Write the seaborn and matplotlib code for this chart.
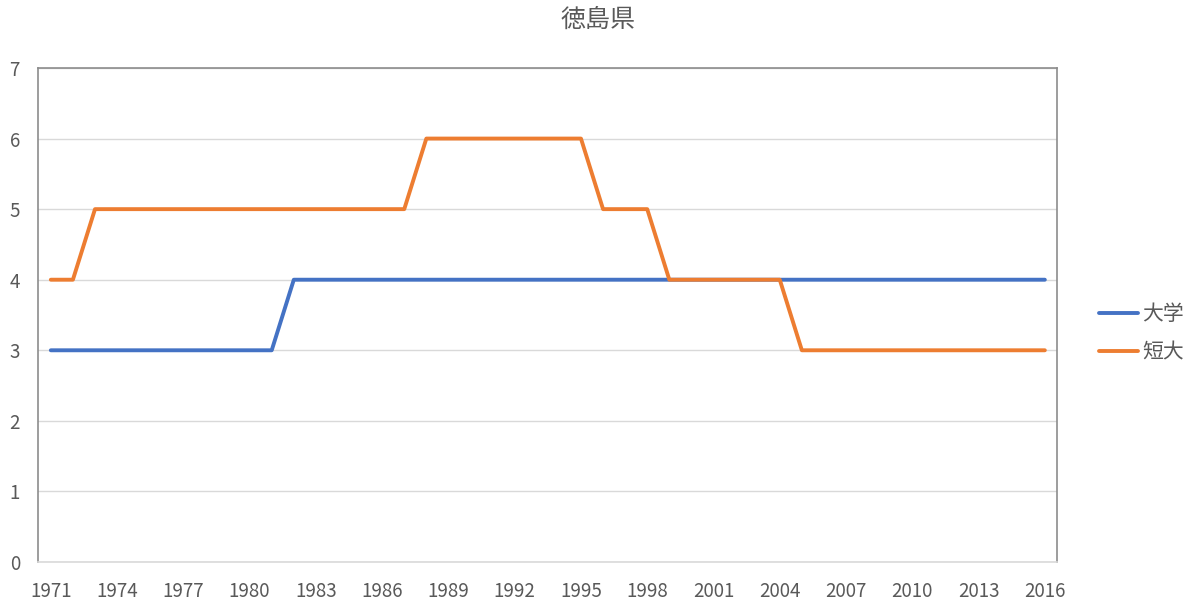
import numpy as np
import pandas as pd
import matplotlib
matplotlib.use("Agg")
import matplotlib.pyplot as plt
import seaborn as sns

years = list(range(1971, 2017))
daigaku = [3] * 11 + [4] * 35            # 1971-1981: 3, 1982-2016: 4
tandai = ([4] * 2 + [5] * 15 + [6] * 8 + [5] * 3 + [4] * 6 + [3] * 12)
series_names = ["大学", "短大"]
colors = ["#4472C4", "#ED7D31"]
title = "徳島県"

df = pd.DataFrame({"year": years * 2,
                   "value": daigaku + tandai,
                   "kind": [series_names[0]] * len(years) + [series_names[1]] * len(years)})

sns.set_style("white")
plt.rcParams["font.family"] = ["Noto Sans CJK JP", "DejaVu Sans"]

fig = plt.figure(figsize=(11.96, 6.06), dpi=100)
ax = fig.add_axes([38 / 1196, 44 / 606, (1057 - 38) / 1196, (562 - 68) / 606])

sns.lineplot(data=df, x="year", y="value", hue="kind", palette=colors,
             linewidth=2.8, ax=ax, legend=True)

ax.set_xlim(1970.42, 2016.55)
ax.set_ylim(0, 7)
ax.set_xticks(years[::3])
ax.set_yticks(range(0, 8))
ax.yaxis.grid(True, color="#D9D9D9", linewidth=1)
ax.set_axisbelow(True)
ax.set_xlabel("")
ax.set_ylabel("")

for side in ["left", "top", "right"]:
    ax.spines[side].set_color("#8C8C8C")
    ax.spines[side].set_linewidth(1.2)
ax.spines["bottom"].set_color("#D9D9D9")
ax.spines["bottom"].set_linewidth(1.2)

ax.tick_params(axis="both", length=0, labelsize=13.5, labelcolor="#595959")
ax.tick_params(axis="x", pad=14)
ax.tick_params(axis="y", pad=13)

fig.text(0.5, 1 - 20 / 606, title, ha="center", va="center",
         fontsize=18, color="#595959")

handles, labels = ax.get_legend_handles_labels()
ax.legend(handles, labels, loc="center left", bbox_to_anchor=(1.023, 0.463),
          frameon=False, fontsize=15, labelcolor="#595959",
          handlelength=1.85, handletextpad=0.2, labelspacing=0.78)

fig.savefig("out.png", dpi=100)
